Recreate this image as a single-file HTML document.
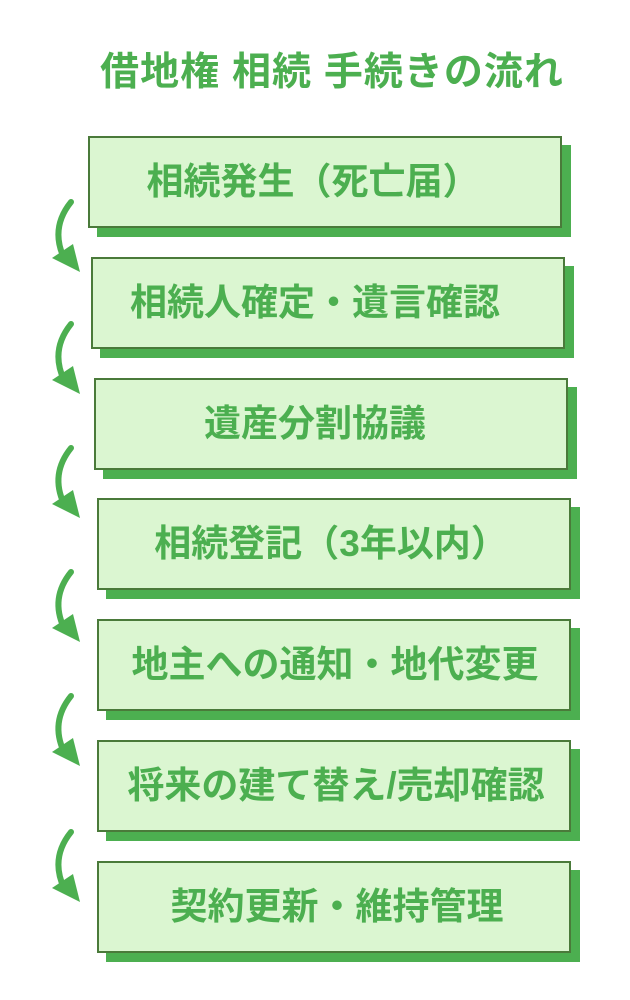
<!DOCTYPE html>
<html><head><meta charset="utf-8"><style>
body{margin:0;width:630px;height:1000px;background:#fff;position:relative;overflow:hidden;font-family:"Liberation Sans","Noto Sans CJK JP",sans-serif}
.t{position:absolute;left:17px;width:630px;top:48px;text-align:center;font-size:39px;font-weight:bold;color:#4caf50;letter-spacing:1px;line-height:50px}
.b{position:absolute;width:470px;height:88px;background:#dbf6d1;border:2px solid #4a7a3a;box-shadow:9px 9px 0 #4caf50;color:#4caf50;font-weight:bold;font-size:37px;line-height:88px;text-align:center;box-sizing:content-box;white-space:nowrap}
svg{position:absolute;left:0;top:0}
</style></head><body>
<div class="t">借地権 相続 手続きの流れ</div>
<div class="b" style="left:88px;top:136px;text-indent:-24px">相続発生（死亡届）</div>
<div class="b" style="left:91px;top:257px;text-indent:-26px">相続人確定・遺言確認</div>
<div class="b" style="left:94px;top:378px;text-indent:-32px">遺産分割協議</div>
<div class="b" style="left:97px;top:498px;text-indent:-6px">相続登記（3年以内）</div>
<div class="b" style="left:97px;top:619px;text-indent:2px">地主への通知・地代変更</div>
<div class="b" style="left:97px;top:740px;text-indent:4px">将来の建て替え/売却確認</div>
<div class="b" style="left:97px;top:861px;text-indent:6px">契約更新・維持管理</div>
<svg width="630" height="1000">
<g fill="none" stroke="#4caf50" stroke-width="6" stroke-linecap="round">
<path d="M71 202 Q50 228 64 258"/>
<path d="M71 324 Q50 350 64 380"/>
<path d="M71 448 Q50 474 64 504"/>
<path d="M71 572 Q50 598 64 628"/>
<path d="M71 696 Q50 722 64 752"/>
<path d="M71 832 Q50 858 64 888"/>
</g>
<g fill="#4caf50">
<path d="M52 258 L80 272 L73 244 Z"/>
<path d="M52 380 L80 394 L73 366 Z"/>
<path d="M52 504 L80 518 L73 490 Z"/>
<path d="M52 628 L80 642 L73 614 Z"/>
<path d="M52 752 L80 766 L73 738 Z"/>
<path d="M52 888 L80 902 L73 874 Z"/>
</g>
</svg>
</body></html>
